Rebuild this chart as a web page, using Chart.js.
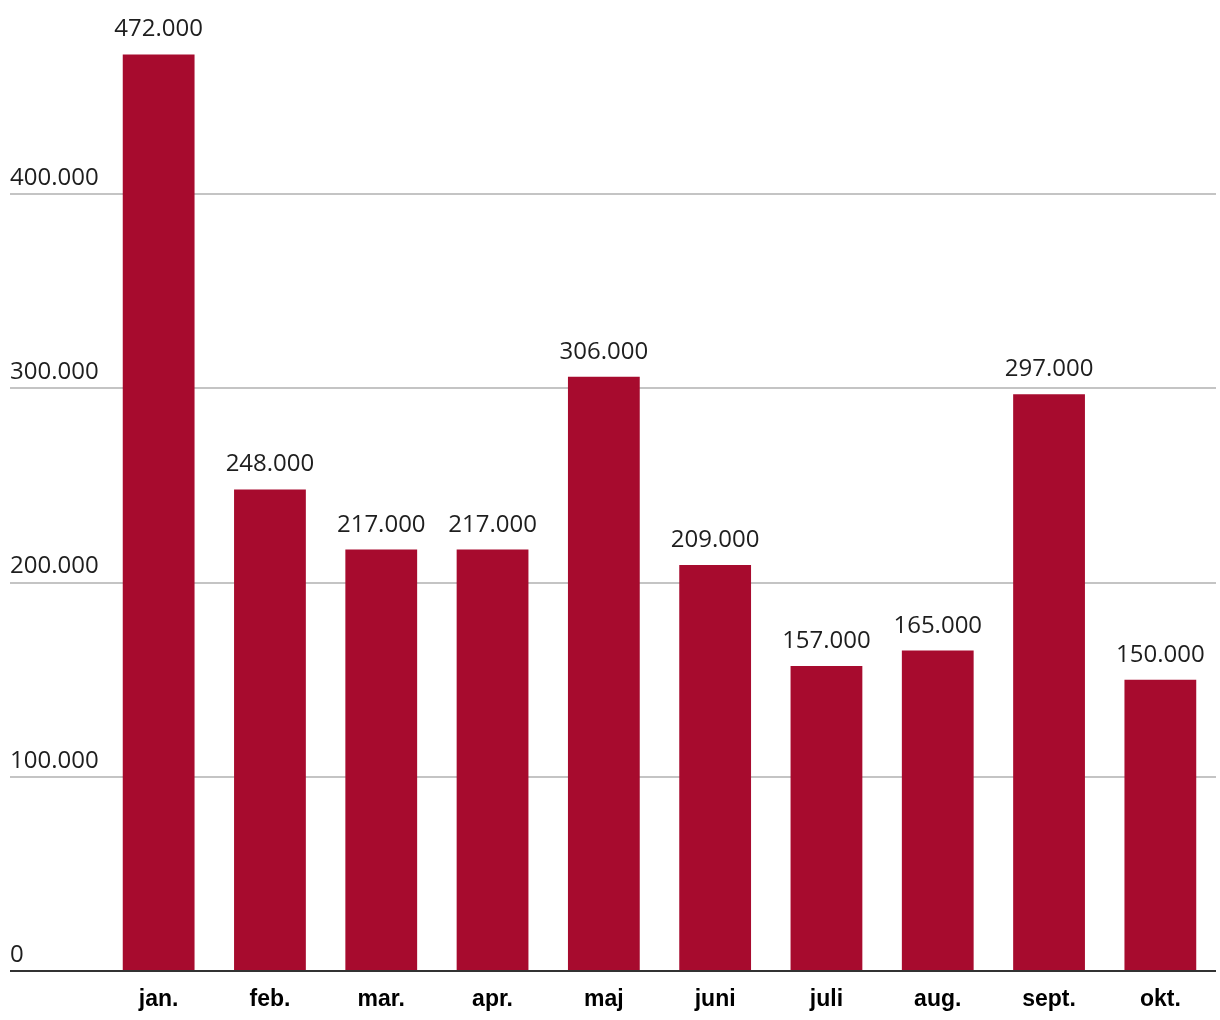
<!DOCTYPE html>
<html>
<head>
<meta charset="utf-8">
<script src="https://cdn.jsdelivr.net/npm/chart.js@4.4.1/dist/chart.umd.min.js"></script>
<style>
  html, body { margin: 0; padding: 0; background: #fff; }
  #wrap { width: 1220px; height: 1020px; }
</style>
</head>
<body>
<div id="wrap"><canvas id="grafico"></canvas></div>
<script>
const maaneder = ["jan.", "feb.", "mar.", "apr.", "maj", "juni", "juli", "aug.", "sept.", "okt."];
const vaerdier = [472000, 248000, 217000, 217000, 306000, 209000, 157000, 165000, 297000, 150000];
const yTicks = [0, 100000, 200000, 300000, 400000];

const fmt = v => v.toLocaleString('da-DK');

// tal over søjlerne
const vaerdiEtiketter = {
  id: 'vaerdiEtiketter',
  afterDatasetsDraw(chart) {
    const ctx = chart.ctx;
    const meta = chart.getDatasetMeta(0);
    ctx.save();
    ctx.font = '24px "Open Sans"';
    ctx.fillStyle = '#1e1e1e';
    ctx.textAlign = 'center';
    ctx.textBaseline = 'alphabetic';
    meta.data.forEach((bar, i) => {
      ctx.fillText(fmt(vaerdier[i]), bar.x, bar.y - 18);
    });
    ctx.restore();
  }
};

const ctx = document.getElementById('grafico').getContext('2d');
new Chart(ctx, {
  type: 'bar',
  data: {
    labels: maaneder,
    datasets: [{
      data: vaerdier,
      backgroundColor: '#a70b2e',
      categoryPercentage: 1,
      barPercentage: 0.645
    }]
  },
  options: {
    responsive: true,
    maintainAspectRatio: false,
    animation: false,
    layout: { padding: { left: 10, right: 4, top: 0, bottom: 0 } },
    plugins: { legend: { display: false }, tooltip: { enabled: false } },
    scales: {
      x: {
        grid: { display: false },
        border: { display: false },
        ticks: {
          color: '#000',
          padding: 7,
          font: { family: '"Liberation Sans", Arial, sans-serif', size: 23, weight: 'bold' }
        },
        afterFit: s => { s.height = 49; s.paddingLeft = 0; s.paddingRight = 0; }
      },
      y: {
        min: 0,
        max: 500000,
        border: { display: false },
        afterBuildTicks: s => { s.ticks = yTicks.map(v => ({ value: v })); },
        afterFit: s => { s.width = 93; s.paddingTop = 0; s.paddingBottom = 0; },
        grid: {
          drawTicks: true,
          tickLength: 93,
          color: c => c.tick && c.tick.value === 0 ? '#333' : '#c4c4c4',
          tickColor: c => c.tick && c.tick.value === 0 ? '#333' : '#c4c4c4',
          lineWidth: 2,
          tickWidth: 2
        },
        ticks: {
          crossAlign: 'far',
          padding: 0,
          labelOffset: -16,
          color: '#1e1e1e',
          font: { family: '"Open Sans", sans-serif', size: 24 },
          callback: v => fmt(v)
        }
      }
    }
  },
  plugins: [vaerdiEtiketter]
});
</script>
</body>
</html>
